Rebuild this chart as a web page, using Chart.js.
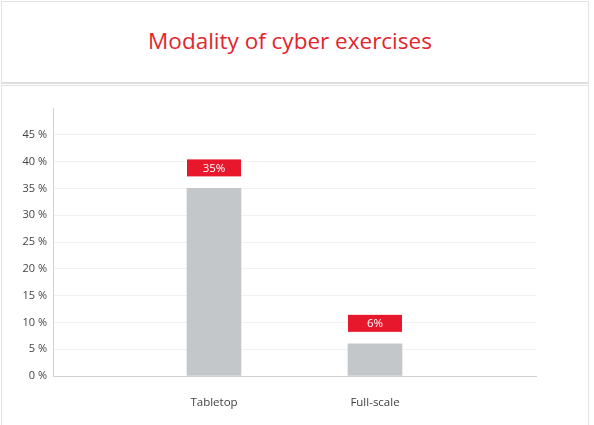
<!DOCTYPE html>
<html>
<head>
<meta charset="utf-8">
<script src="https://cdn.jsdelivr.net/npm/chart.js@4.4.0/dist/chart.umd.min.js"></script>
<style>
  body { margin: 0; background: #fff; font-family: "Open Sans", sans-serif; }
  #titleBox {
    position: absolute; left: 1px; top: 1px; width: 586px; height: 80px;
    border: 1px solid #e2e3e4; border-bottom: 2px solid #dcdedf;
    text-align: center; box-sizing: content-box;
  }
  #titleBox h1 {
    margin: 0; padding: 24px 10px 0 0; font-weight: 400; font-size: 22.5px;
    color: #e0262f; line-height: 30px;
  }
  #chartBox {
    position: absolute; left: 1px; top: 85px; width: 586px; height: 345px;
    border: 1px solid #e2e3e4;
  }
  #myChart { position: absolute; left: 0; top: 0; }
</style>
</head>
<body>
<div id="titleBox"><h1>Modality of cyber exercises</h1></div>
<div id="chartBox"></div>
<canvas id="myChart" width="594" height="425"></canvas>
<script>
"use strict";

const categories = ['Tabletop', 'Full-scale'];
const values = [35, 6];
const yTicks = [0, 5, 10, 15, 20, 25, 30, 35, 40, 45];

// empty slots on both sides so the bars sit at 1/3 and 2/3 of the axis
let labels = [''].concat(categories, ['']);
let data = [null].concat(values, [null]);

Chart.defaults.font.family = '"Open Sans", sans-serif';

// red value boxes above the bars
const valueBoxes = {
    id: 'valueBoxes',
    afterDatasetsDraw(chart) {
        let ctx = chart.ctx;
        let meta = chart.getDatasetMeta(0);
        meta.data.forEach((bar, i) => {
            if (data[i] == null) return;
            let w = bar.width;
            let bottom = bar.y - 12;
            ctx.save();
            ctx.fillStyle = '#e8182c';
            ctx.fillRect(bar.x - w / 2, bottom - 17, w, 17);
            ctx.fillStyle = '#fff';
            ctx.font = '11.5px "Open Sans", sans-serif';
            ctx.textAlign = 'center';
            ctx.textBaseline = 'middle';
            ctx.fillText(data[i] + '%', bar.x, bottom - 8);
            ctx.restore();
        });
    }
};

let modalityChart = new Chart(document.getElementById('myChart').getContext('2d'), {
    type: 'bar',
    data: {
        labels: labels,
        datasets: [{
            data: data,
            backgroundColor: '#c4c7ca',
            barThickness: 54,
            borderWidth: 0
        }]
    },
    options: {
        responsive: false,
        animation: false,
        layout: { padding: { top: 108, right: 58, bottom: 9, left: 0 } },
        plugins: { legend: { display: false }, tooltip: { enabled: false } },
        scales: {
            x: {
                offset: false,
                afterFit: s => { s.height = 40; },
                border: { color: '#cfd1d3' },
                grid: {
                    drawOnChartArea: false,
                    tickLength: 13,
                    color: c => c.index === 0 ? '#cfd1d3' : 'rgba(0,0,0,0)'
                },
                ticks: { color: '#3f3f3f', font: { size: 11.5 }, padding: 7, maxRotation: 0 }
            },
            y: {
                min: 0,
                max: 50,
                afterFit: s => { s.width = 53; },
                afterBuildTicks: s => { s.ticks = yTicks.map(v => ({ value: v })); },
                border: { color: '#cfd1d3' },
                grid: { color: '#f0f1f2', drawTicks: false },
                ticks: { color: '#444', font: { size: 11 }, padding: 6, callback: v => v + ' %' }
            }
        }
    },
    plugins: [valueBoxes]
});
</script>
</body>
</html>
